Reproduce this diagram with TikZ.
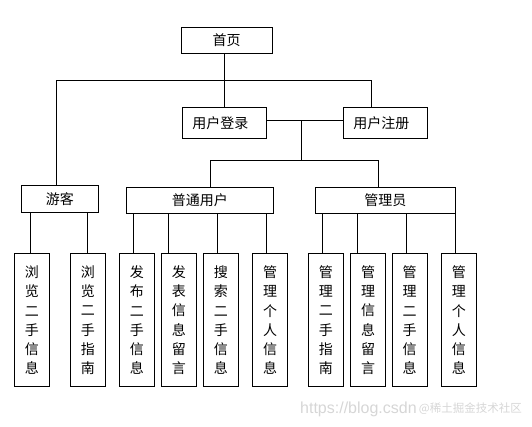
\documentclass[tikz,border=0pt]{standalone}
\usepackage{fontspec}
\newfontfamily\cjk{Noto Sans CJK SC}
\newfontfamily\wmfont{Liberation Sans}
\begin{document}
\begin{tikzpicture}[x=1pt,y=-1pt,
  wire/.style={line width=1pt},
  box/.style={draw, line width=1pt, inner sep=0pt, font=\cjk\fontsize{14}{14}\selectfont},
  leaf/.style={box, minimum width=35pt, minimum height=133.5pt, align=center,
    font=\cjk\fontsize{14}{19.3}\selectfont},
  wm/.style={text=black!16, inner sep=0pt}]
\path[use as bounding box] (0,0) rectangle (532,427);
% main boxes
\node[box, minimum width=91pt, minimum height=26pt] (home) at (226.5,40.3) {首页};
\node[box, minimum width=84pt, minimum height=31pt] (login) at (224.4,122.8) {\hspace*{-8pt}用户登录};
\node[box, minimum width=84pt, minimum height=31pt] (reg) at (385.4,122.8) {\hspace*{-8pt}用户注册};
\node[box, minimum width=77pt, minimum height=27pt] (guest) at (59.8,198.8) {游客};
\node[box, minimum width=147pt, minimum height=26pt] (normal) at (199.8,200.4) {普通用户};
\node[box, minimum width=140pt, minimum height=26pt] (admin) at (385.3,200.4) {管理员};
% leaves
\node[leaf] (l1) at (31.8,320.2) {浏\\览\\二\\手\\信\\息};
\node[leaf] (l2) at (87.8,320.2) {浏\\览\\二\\手\\指\\南};
\node[leaf] (l3) at (136.8,320.2) {发\\布\\二\\手\\信\\息};
\node[leaf] (l4) at (178.8,320.2) {发\\表\\信\\息\\留\\言};
\node[leaf] (l5) at (220.8,320.2) {搜\\索\\二\\手\\信\\息};
\node[leaf] (l6) at (270.0,320.2) {管\\理\\个\\人\\信\\息};
\node[leaf] (l7) at (325.8,320.2) {管\\理\\二\\手\\指\\南};
\node[leaf] (l8) at (368.0,320.2) {管\\理\\信\\息\\留\\言};
\node[leaf] (l9) at (409.7,320.2) {管\\理\\二\\手\\信\\息};
\node[leaf] (l10) at (458.8,320.2) {管\\理\\个\\人\\信\\息};
% connectors, top level
\coordinate (busL) at (56.3,80.3);
\coordinate (busR) at (371.7,80.3);
\draw[wire] (login.north |- home.south) -- (login.north);
\draw[wire] (busL |- guest.north) -- (busL) -- (busR) -- (busR |- reg.north);
\coordinate (mid) at (301.5,120.3);
\coordinate (busL2) at (210.5,160.3);
\coordinate (busR2) at (378.3,160.3);
\draw[wire] (login.east |- mid) -- (reg.west |- mid);
\draw[wire] (mid) -- (mid |- busL2);
\draw[wire] (busL2 |- normal.north) -- (busL2) -- (busR2) -- (busR2 |- admin.north);
% connectors to leaves
\foreach \p/\l/\x in {guest/l1/30.3, guest/l2/87.5, normal/l3/133.3, normal/l4/168.3,
  normal/l5/217.5, normal/l6/266.5, admin/l7/322.3, admin/l8/357.3, admin/l9/406.3, admin/l10/455.3}{
  \coordinate (k) at (\x,0);
  \draw[wire] (\p.south -| k) -- (\l.north -| k);
}
% watermark
\node[wm, anchor=west, font=\wmfont\fontsize{16}{16}\selectfont] (wm1) at (300,409) {https://blog.csdn};
\node[wm, anchor=east, font=\cjk\fontsize{11.5}{11.5}\selectfont] (wm2) at (522,409) {@稀土掘金技术社区};
\end{tikzpicture}
\end{document}
